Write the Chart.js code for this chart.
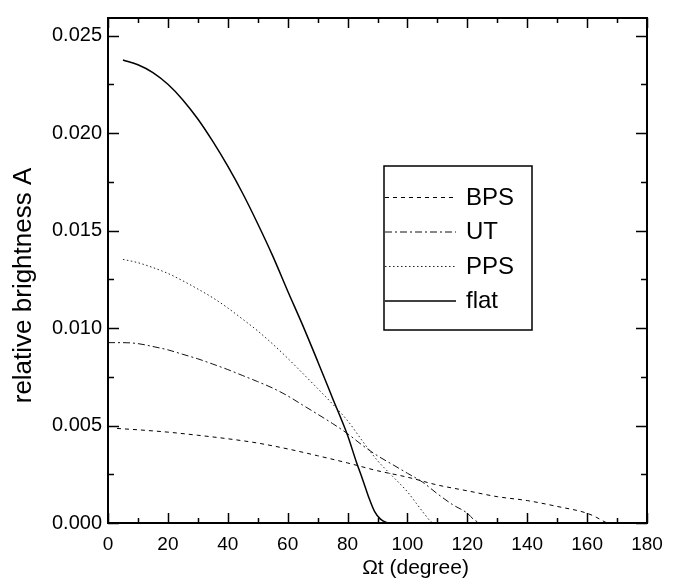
<!DOCTYPE html>
<html>
<head>
<meta charset="utf-8">
<script src="https://cdn.jsdelivr.net/npm/chart.js@4/dist/chart.umd.min.js"></script>
<style>
  html, body { margin: 0; padding: 0; background: #fff; }
  #wrap { width: 675px; height: 582px; }
</style>
</head>
<body>
<div id="wrap"><canvas id="brightnessChart" width="675" height="582"></canvas></div>
<script>
// values (x in degrees, y = relative brightness)
const bpsX  = [3, 10, 20, 30, 40, 50, 60, 70, 80, 90, 100, 110, 120, 130, 140, 150, 160, 163, 166, 167];
const bpsY  = [0.00485, 0.00478, 0.00466, 0.00450, 0.00432, 0.00410, 0.00380, 0.00345, 0.00308, 0.00268,
               0.00235, 0.00195, 0.00165, 0.00135, 0.00115, 0.00085, 0.00050, 0.00030, 0.00005, 0];

const utX   = [0, 5, 10, 15, 20, 25, 30, 35, 40, 45, 50, 55, 60, 65, 70, 75, 80, 85, 90, 95, 100, 105, 110, 115, 120, 122, 124];
const utY   = [0.00925, 0.00925, 0.00920, 0.00905, 0.00888, 0.00865, 0.00842, 0.00815, 0.00787, 0.00756,
               0.00725, 0.00692, 0.00652, 0.00605, 0.00558, 0.00510, 0.00458, 0.00398, 0.00345, 0.00300,
               0.00255, 0.00210, 0.00150, 0.00095, 0.00050, 0.00020, 0];

const ppsX  = [5, 10, 15, 20, 25, 30, 35, 40, 45, 50, 55, 60, 65, 70, 75, 80, 85, 90, 95, 100, 103, 106, 108, 109];
const ppsY  = [0.01352, 0.01335, 0.01310, 0.01280, 0.01242, 0.01200, 0.01155, 0.01103, 0.01045, 0.00985,
               0.00918, 0.00845, 0.00768, 0.00690, 0.00610, 0.00525, 0.00420, 0.00320, 0.00240, 0.00160,
               0.00100, 0.00040, 0.00005, 0];

const flatX = [5, 10, 15, 20, 25, 30, 35, 40, 45, 50, 55, 60, 65, 70, 75, 80, 83, 85, 87, 89, 91, 93, 94];
const flatY = [0.02375, 0.02350, 0.02310, 0.02250, 0.02170, 0.02072, 0.01957, 0.01830, 0.01690, 0.01535,
               0.01370, 0.01190, 0.01015, 0.00830, 0.00640, 0.00450, 0.00310, 0.00225, 0.00135, 0.00060,
               0.00020, 0.00003, 0];

const seriesLabels = ['BPS', 'UT', 'PPS', 'flat'];
const xTitle = 'Ωt (degree)';
const yTitle = 'relative brightness A';

const FONT = "'Liberation Sans', Arial, sans-serif";

function toPoints(xs, ys) {
    return xs.map((x, i) => ({ x: x, y: ys[i] }));
}

function isMultiple(v, step) {
    const r = v / step;
    return Math.abs(r - Math.round(r)) < 1e-6;
}

// frame + inward tick marks on all four sides
const framePlugin = {
    id: 'frame',
    afterDraw(chart) {
        const { ctx, chartArea: a, scales } = chart;
        ctx.save();
        ctx.strokeStyle = '#000';
        ctx.lineWidth = 2;
        ctx.strokeRect(a.left, a.top, a.right - a.left, a.bottom - a.top);

        ctx.lineWidth = 1.5;
        scales.x.ticks.forEach(t => {
            const px = Math.round(scales.x.getPixelForValue(t.value)) + 0.5;
            const len = isMultiple(t.value, 20) ? 10 : 5;
            ctx.beginPath();
            ctx.moveTo(px, a.bottom); ctx.lineTo(px, a.bottom - len);
            ctx.moveTo(px, a.top); ctx.lineTo(px, a.top + len);
            ctx.stroke();
        });
        scales.y.ticks.forEach(t => {
            const py = Math.round(scales.y.getPixelForValue(t.value)) + 0.5;
            const len = isMultiple(t.value, 0.005) ? 11 : 6;
            ctx.beginPath();
            ctx.moveTo(a.left, py); ctx.lineTo(a.left + len, py);
            ctx.moveTo(a.right, py); ctx.lineTo(a.right - len, py);
            ctx.stroke();
        });

        // axis titles
        ctx.fillStyle = '#000';
        ctx.textAlign = 'center';
        ctx.textBaseline = 'middle';
        ctx.font = '21px ' + FONT;
        ctx.fillText(xTitle, (a.left + a.right) / 2 + 38, a.bottom + 45);

        ctx.save();
        ctx.translate(24, (a.top + a.bottom) / 2 + 15);
        ctx.rotate(-Math.PI / 2);
        ctx.font = '26px ' + FONT;
        ctx.fillText(yTitle, 0, 0);
        ctx.restore();
        ctx.restore();
    }
};

// boxed legend inside the plot
const boxLegendPlugin = {
    id: 'boxLegend',
    afterDraw(chart, args, opts) {
        const { ctx } = chart;
        const bx = opts.left, by = opts.top, bw = opts.width, bh = opts.height;
        ctx.save();
        ctx.fillStyle = '#fff';
        ctx.fillRect(bx, by, bw, bh);
        ctx.strokeStyle = '#000';
        ctx.lineWidth = 1.5;
        ctx.strokeRect(bx, by, bw, bh);

        ctx.font = '24px ' + FONT;
        ctx.textAlign = 'left';
        ctx.textBaseline = 'middle';
        chart.data.datasets.forEach((ds, i) => {
            const y = by + opts.firstRow + i * opts.rowStep;
            ctx.beginPath();
            ctx.strokeStyle = ds.borderColor;
            ctx.lineWidth = ds.borderWidth;
            ctx.setLineDash(ds.borderDash || []);
            ctx.moveTo(bx + 1, y + 0.5);
            ctx.lineTo(bx + opts.sampleLength, y + 0.5);
            ctx.stroke();
            ctx.setLineDash([]);
            ctx.fillStyle = '#000';
            ctx.fillText(ds.label, bx + opts.sampleLength + 10, y + 1);
        });
        ctx.restore();
    }
};

const ctx = document.getElementById('brightnessChart').getContext('2d');

new Chart(ctx, {
    type: 'line',
    data: {
        datasets: [
            {
                label: seriesLabels[0],
                data: toPoints(bpsX, bpsY),
                borderColor: '#000',
                borderWidth: 1,
                borderDash: [4, 4]
            },
            {
                label: seriesLabels[1],
                data: toPoints(utX, utY),
                borderColor: '#111',
                borderWidth: 1,
                borderDash: [7, 3, 2, 3]
            },
            {
                label: seriesLabels[2],
                data: toPoints(ppsX, ppsY),
                borderColor: '#222',
                borderWidth: 1,
                borderDash: [1.5, 2.5]
            },
            {
                label: seriesLabels[3],
                data: toPoints(flatX, flatY),
                borderColor: '#000',
                borderWidth: 1.5
            }
        ]
    },
    options: {
        responsive: false,
        animation: false,
        layout: {
            padding: { top: 10, right: 28, left: 0, bottom: 0 }
        },
        elements: {
            point: { radius: 0 },
            line: { cubicInterpolationMode: 'monotone', fill: false }
        },
        scales: {
            x: {
                type: 'linear',
                min: 0,
                max: 180,
                grid: { display: false, drawTicks: false },
                border: { display: false },
                afterFit: (scale) => { scale.height = 59; },
                ticks: {
                    stepSize: 10,
                    includeBounds: false,
                    autoSkip: false,
                    maxRotation: 0,
                    padding: 10,
                    color: '#000',
                    font: { family: FONT, size: 19 },
                    callback: (v) => isMultiple(v, 20) ? String(v) : ''
                }
            },
            y: {
                type: 'linear',
                min: 0,
                max: 0.0259,
                grid: { display: false, drawTicks: false },
                border: { display: false },
                afterFit: (scale) => { scale.width = 108; },
                ticks: {
                    stepSize: 0.0025,
                    includeBounds: false,
                    autoSkip: false,
                    padding: 6,
                    color: '#000',
                    font: { family: FONT, size: 20 },
                    callback: (v) => isMultiple(v, 0.005) ? v.toFixed(3) : ''
                }
            }
        },
        plugins: {
            legend: { display: false },
            tooltip: { enabled: false },
            boxLegend: {
                left: 384,
                top: 166,
                width: 148,
                height: 164,
                firstRow: 31,
                rowStep: 34.5,
                sampleLength: 72
            }
        }
    },
    plugins: [framePlugin, boxLegendPlugin]
});
</script>
</body>
</html>
